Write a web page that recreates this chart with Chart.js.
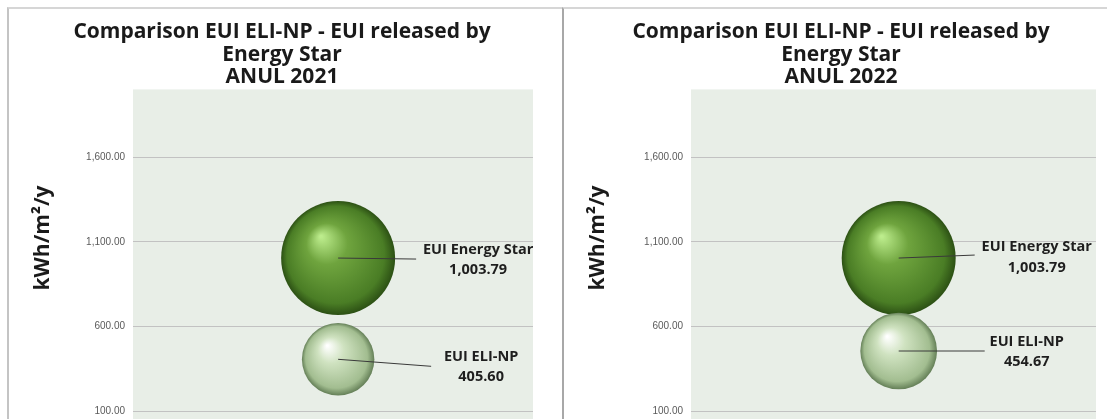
<!DOCTYPE html>
<html>
<head>
<meta charset="utf-8">
<script src="https://cdn.jsdelivr.net/npm/chart.js@4.4.0/dist/chart.umd.min.js"></script>
<style>
  html, body { margin:0; padding:0; background:#fff; overflow:hidden; }
  body { width:1107px; height:419px; position:relative; }
  .panel { position:absolute; top:7px; height:424px; border-top:2px solid #d6d6d6; }
  #p1 { left:7px; width:553px; border-left:2px solid #c4c4c4; }
  #p2 { left:562px; width:543px; border-left:2px solid #a8a8a8; }
  .box { position:relative; width:100%; height:100%; }
</style>
</head>
<body>
<div class="panel" id="p1"><div class="box"><canvas id="c2021"></canvas></div></div>
<div class="panel" id="p2"><div class="box"><canvas id="c2022"></canvas></div></div>
<script>
// data
const series = ['EUI Energy Star', 'EUI ELI-NP'];
const years = ['2021', '2022'];
const eui2021 = [1003.79, 405.60];
const eui2022 = [1003.79, 454.67];
const yTicks = [100, 600, 1100, 1600];
const yTitle = 'kWh/m²/y';

const fmt = v => v.toLocaleString('en-US', { minimumFractionDigits: 2, maximumFractionDigits: 2 });

// sphere shading for each series
const shades = [
  ['#bcec8c', '#6fa43e', '#4a7d25', '#2c5014'],
  ['#ffffff', '#cfe2c0', '#a2bd90', '#647f57']
];

function sphere(ctx) {
  const chart = ctx.chart;
  const raw = ctx.raw;
  if (!raw || !chart.chartArea) return shades[ctx.dataIndex][1];
  const x = chart.scales.x.getPixelForValue(raw.x);
  const y = chart.scales.y.getPixelForValue(raw.y);
  const r = raw.r;
  const c = shades[ctx.dataIndex];
  const g = chart.ctx.createRadialGradient(x - r * 0.3, y - r * 0.38, r * 0.02, x, y, r);
  g.addColorStop(0, c[0]);
  g.addColorStop(0.35, c[1]);
  g.addColorStop(0.85, c[2]);
  g.addColorStop(1, c[3]);
  return g;
}

const plotBg = {
  id: 'plotBg',
  beforeDraw(chart) {
    const a = chart.chartArea, ctx = chart.ctx;
    ctx.save();
    ctx.fillStyle = '#e8eee7';
    ctx.fillRect(a.left, a.top, a.right - a.left, a.bottom - a.top);
    ctx.restore();
  }
};

// y title placed a bit above the middle of the axis, like the original
const yTitlePlugin = {
  id: 'yTitle',
  afterDraw(chart) {
    const ctx = chart.ctx;
    ctx.save();
    ctx.translate(34, 229);
    ctx.rotate(-Math.PI / 2);
    ctx.fillStyle = '#1a1a1a';
    ctx.font = 'bold 21px "Open Sans"';
    ctx.textAlign = 'center';
    ctx.textBaseline = 'middle';
    ctx.fillText(yTitle, 0, 0);
    ctx.restore();
  }
};

// leader lines and labels, offsets given per point in px
const labelPlugin = {
  id: 'bubbleLabels',
  afterDatasetsDraw(chart, args, opts) {
    const ctx = chart.ctx;
    const meta = chart.getDatasetMeta(0);
    const vals = chart.data.datasets[0].values;
    meta.data.forEach((el, i) => {
      const o = opts.offsets[i];
      ctx.save();
      ctx.strokeStyle = '#3a3a3a';
      ctx.lineWidth = 1;
      ctx.beginPath();
      ctx.moveTo(el.x, el.y);
      ctx.lineTo(el.x + o.lx, el.y + o.ly);
      ctx.stroke();
      ctx.fillStyle = '#1e1e1e';
      ctx.font = 'bold 14.5px "Open Sans"';
      ctx.textAlign = 'center';
      ctx.textBaseline = 'middle';
      ctx.fillText(series[i], el.x + o.tx, el.y + o.ty1);
      ctx.fillText(fmt(vals[i]), el.x + o.tx, el.y + o.ty2);
      ctx.restore();
    });
  }
};

function makeChart(id, year, values, padRight, axisW, offsets) {
  const k = 57 / Math.sqrt(1003.79);
  new Chart(document.getElementById(id), {
    type: 'bubble',
    data: {
      datasets: [{
        data: values.map(v => ({ x: 1, y: v, r: k * Math.sqrt(v) })),
        values: values,
        backgroundColor: sphere,
        borderWidth: 0
      }]
    },
    options: {
      responsive: true,
      maintainAspectRatio: false,
      animation: false,
      layout: { autoPadding: false, padding: { left: 22, right: padRight, top: 0, bottom: 0 } },
      plugins: {
        legend: { display: false },
        tooltip: { enabled: false },
        title: {
          display: true,
          text: ['Comparison EUI ELI-NP - EUI released by', 'Energy Star', 'ANUL ' + year],
          color: '#1a1a1a',
          font: { family: 'Open Sans', size: 21, weight: 'bold', lineHeight: 1.07 },
          padding: { top: 12, bottom: 1 }
        },
        bubbleLabels: { offsets: offsets }
      },
      scales: {
        x: { type: 'linear', min: 0, max: 1.95, display: false },
        y: {
          min: 53, max: 2000,
          afterBuildTicks: axis => { axis.ticks = yTicks.map(v => ({ value: v })); },
          afterFit: scale => { scale.width = axisW; },
          border: { display: false },
          grid: { color: '#c2c2c2', drawTicks: false, lineWidth: 1 },
          ticks: {
            padding: 8,
            color: '#5a5a5a',
            font: { family: 'Liberation Sans', size: 10 },
            callback: v => fmt(v)
          }
        }
      }
    },
    plugins: [plotBg, labelPlugin, yTitlePlugin]
  });
}

makeChart('c2021', years[0], eui2021, 29, 102, [
  { lx: 78, ly: 1, tx: 140, ty1: -8, ty2: 12 },
  { lx: 93, ly: 7, tx: 143, ty1: -2, ty2: 18 }
]);
makeChart('c2022', years[1], eui2022, 11, 105, [
  { lx: 76, ly: -3, tx: 138, ty1: -11, ty2: 10 },
  { lx: 86, ly: 0, tx: 128, ty1: -9, ty2: 11 }
]);
</script>
</body>
</html>
